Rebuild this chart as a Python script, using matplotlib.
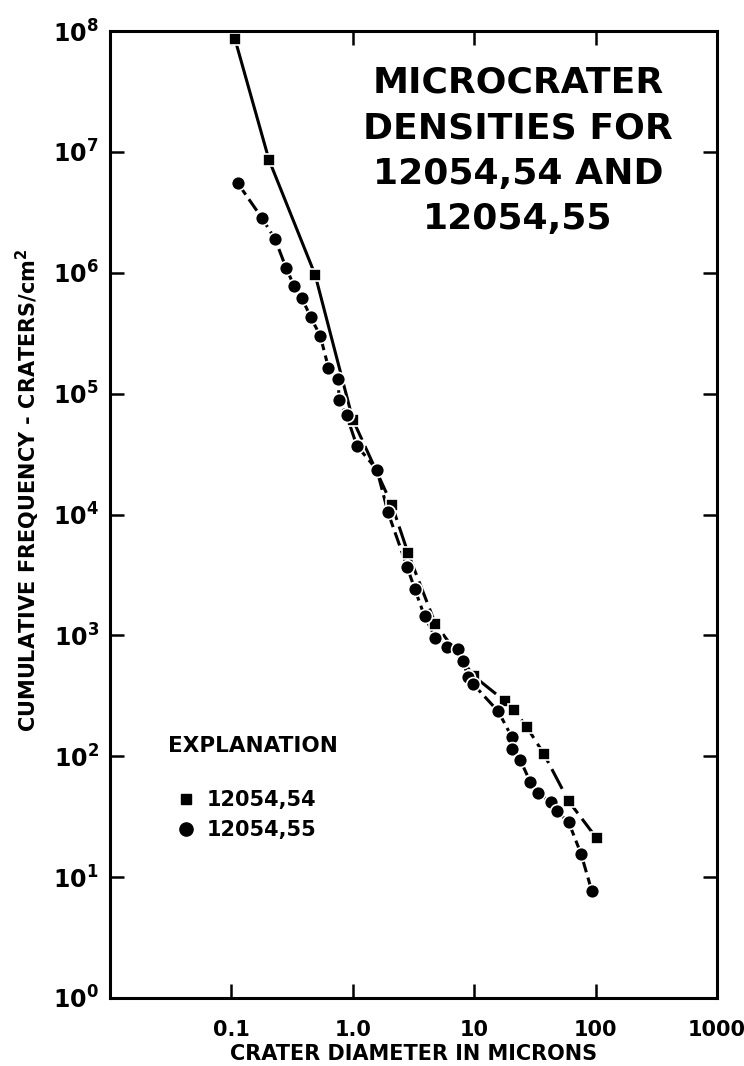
import matplotlib
matplotlib.use("Agg")
import matplotlib.pyplot as plt
from matplotlib.lines import Line2D
from matplotlib.ticker import FixedLocator, FixedFormatter

plt.rcParams['font.family'] = ['DejaVu Sans']
plt.rcParams['font.weight'] = 'bold'
plt.rcParams['lines.scale_dashes'] = False

# 12054,54 (squares)
sq_d = [0.107, 0.204, 0.49, 1.0, 2.1, 2.85, 4.8, 10.0, 18.0, 21.2, 27.0, 37.6, 60.0, 102.0]
sq_n = [8.6e7, 8.6e6, 9.6e5, 6.1e4, 1.2e4, 4.8e3, 1.24e3, 457, 285, 240, 176, 104, 42.5, 21]

# 12054,55 (circles)
ci_d = [0.113, 0.178, 0.229, 0.282, 0.33, 0.38, 0.45, 0.54, 0.63, 0.76, 0.77, 0.89,
        1.08, 1.58, 1.95, 2.8, 3.25, 3.9, 4.8, 6.0, 7.4, 8.1, 8.9, 9.8, 15.8,
        20.5, 20.5, 24.0, 29.0, 33.5, 42.7, 48.0, 60.0, 76.0, 93.0]
ci_n = [5.5e6, 2.85e6, 1.9e6, 1.1e6, 7.7e5, 6.2e5, 4.3e5, 3.0e5, 1.64e5, 1.33e5, 8.8e4, 6.6e4,
        3.7e4, 2.35e4, 1.04e4, 3.7e3, 2.4e3, 1.44e3, 960, 800, 766, 610, 450, 395, 235,
        143, 114, 93, 61, 50, 41.5, 35, 28.5, 15.5, 7.7]

x_ticks = [0.1, 1.0, 10, 100, 1000]
x_labels = ['0.1', '1.0', '10', '100', '1000']
y_exps = list(range(0, 9))

title = "MICROCRATER\nDENSITIES FOR\n12054,54 AND\n12054,55"

fig = plt.figure(figsize=(7.44, 10.66), dpi=100)
ax = fig.add_axes([0.1478, 0.0638, 0.8159, 0.9071])
ax.set_xscale('log')
ax.set_yscale('log')
ax.set_xlim(0.01, 1000)
ax.set_ylim(1, 1e8)

# connecting lines
ax.plot(sq_d[:4], sq_n[:4], color='black', lw=2.2, solid_capstyle='butt')
ax.plot(sq_d[3:], sq_n[3:], color='black', lw=2.2, dashes=(16, 5))
ax.plot(ci_d, ci_n, color='black', lw=2.2, dashes=(10, 4))

# markers with a thin white halo (pen-drawn gaps)
ax.plot(sq_d, sq_n, ls='none', marker='s', ms=9, color='black',
        mec='white', mew=1.2)
ax.plot(ci_d, ci_n, ls='none', marker='o', ms=10, color='black',
        mec='white', mew=1.2)

ax.xaxis.set_major_locator(FixedLocator(x_ticks))
ax.xaxis.set_major_formatter(FixedFormatter(x_labels))
ax.xaxis.set_minor_locator(FixedLocator([]))
ax.yaxis.set_major_locator(FixedLocator([10.0 ** e for e in y_exps]))
ax.yaxis.set_major_formatter(FixedFormatter([r'$\mathbf{10^{%d}}$' % e for e in y_exps]))
ax.yaxis.set_minor_locator(FixedLocator([]))

ax.tick_params(which='major', direction='in', length=10, width=1.8,
               top=True, right=True, labelsize=15)
ax.tick_params(axis='x', pad=16)
ax.tick_params(axis='y', pad=8, labelsize=17)
for s in ax.spines.values():
    s.set_linewidth(2.2)

ax.set_xlabel('CRATER DIAMETER IN MICRONS', fontsize=15, fontweight='bold', labelpad=3)
ax.set_ylabel(r'CUMULATIVE FREQUENCY - CRATERS/cm$\mathbf{^2}$', fontsize=15,
              fontweight='bold')
ax.yaxis.set_label_coords(-0.112, 0.525)

ax.text(0.672, 0.876, title, transform=ax.transAxes, ha='center', va='center',
        fontsize=26, fontweight='bold', linespacing=1.42)

handles = [Line2D([], [], ls='none', marker='s', ms=7, color='black'),
           Line2D([], [], ls='none', marker='o', ms=9.5, color='black')]
leg = ax.legend(handles, ['12054,54', '12054,55'], title='EXPLANATION\n',
                loc='upper left', bbox_to_anchor=(0.065, 0.29), frameon=False,
                handlelength=1.7, handletextpad=0.15, labelspacing=0.5,
                prop={'size': 15, 'weight': 'bold'},
                title_fontproperties={'size': 15.5, 'weight': 'bold'},
                alignment='left')

fig.savefig('out.png', dpi=100)
